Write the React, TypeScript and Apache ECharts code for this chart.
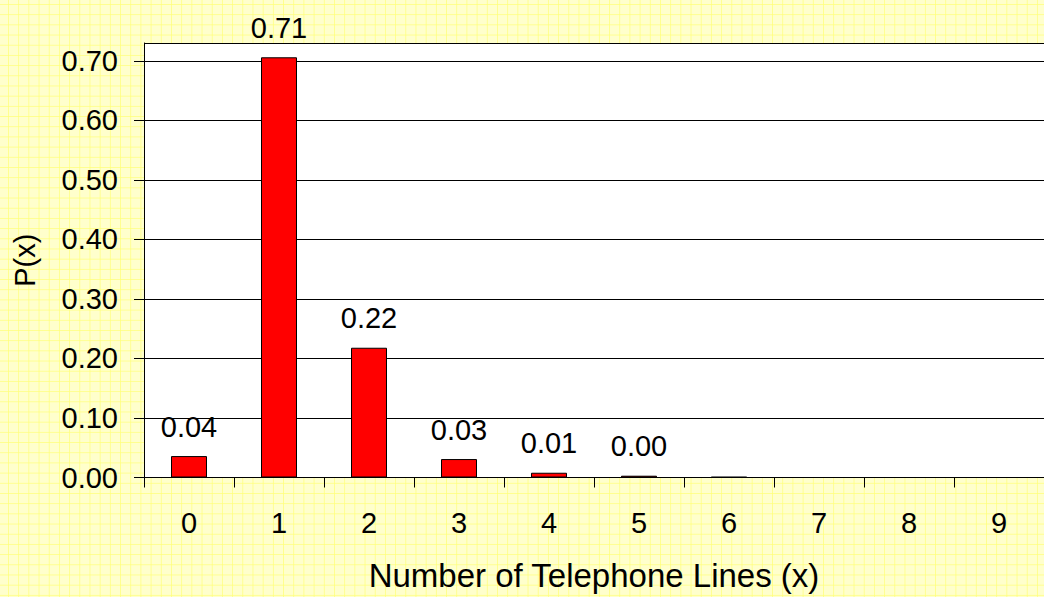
import React, { useEffect, useRef } from "react";
import * as echarts from "echarts";

const categories = ["0", "1", "2", "3", "4", "5", "6", "7", "8", "9"];
const probabilities = [0.036, 0.706, 0.218, 0.031, 0.008, 0.003, 0.001, 0, 0, 0];
const labeledCount = 6;
const yTicks = [0, 0.1, 0.2, 0.3, 0.4, 0.5, 0.6, 0.7];
const yMax = 0.73;
const xTitle = "Number of Telephone Lines (x)";
const yTitle = "P(x)";

const FONT = "'Liberation Sans', Arial, Helvetica, sans-serif";

export default function App() {
  const ref = useRef<HTMLDivElement>(null);
  useEffect(() => {
    if (!ref.current) return;
    const chart = echarts.init(ref.current, undefined, { renderer: "svg" });
    chart.setOption({
      animation: false,
      backgroundColor: "transparent",
      textStyle: { fontFamily: FONT },
      grid: {
        left: 144,
        top: 43,
        width: 912,
        height: 439,
        show: true,
        backgroundColor: "#ffffff",
        borderWidth: 0,
        containLabel: false,
      },
      xAxis: {
        type: "category",
        data: categories,
        boundaryGap: true,
        name: xTitle,
        nameLocation: "middle",
        nameGap: 98,
        nameTextStyle: {
          fontSize: 33,
          color: "#000",
          fontFamily: FONT,
          verticalAlign: "middle",
          align: "center",
        },
        axisLine: { show: true, lineStyle: { color: "#000", width: 1 } },
        axisTick: { show: true, alignWithLabel: false, length: 10, lineStyle: { color: "#000" } },
        axisLabel: { fontSize: 29, color: "#000", margin: 31, fontFamily: FONT },
        splitLine: { show: false },
      },
      yAxis: {
        type: "value",
        min: 0,
        max: yMax,
        interval: 0.1,
        name: yTitle,
        nameLocation: "middle",
        nameGap: 119,
        nameTextStyle: {
          fontSize: 29,
          color: "#000",
          fontFamily: FONT,
          verticalAlign: "middle",
          align: "center",
        },
        axisLine: { show: true, lineStyle: { color: "#000", width: 1 } },
        axisTick: {
          show: true,
          length: 10,
          lineStyle: { color: "#000" },
          customValues: yTicks,
        },
        axisLabel: {
          fontSize: 29,
          color: "#000",
          margin: 26,
          fontFamily: FONT,
          customValues: yTicks,
          formatter: (v: number) => v.toFixed(2),
        },
        splitLine: { show: true, lineStyle: { color: "#000", width: 1 } },
      },
      series: [
        {
          type: "bar",
          data: probabilities,
          barWidth: "40%",
          itemStyle: { color: "#ff0000", borderColor: "#000", borderWidth: 1 },
          label: {
            show: true,
            position: "top",
            distance: 15,
            fontSize: 29,
            color: "#000",
            fontFamily: FONT,
            formatter: (p: any) =>
              p.dataIndex < labeledCount ? Number(p.value).toFixed(2) : "",
          },
          markLine: {
            silent: true,
            symbol: "none",
            label: { show: false },
            lineStyle: { color: "#000", width: 1, type: "solid" },
            data: [{ yAxis: yMax }],
          },
        },
      ],
    });
    return () => chart.dispose();
  }, []);

  return (
    <div
      style={{
        position: "fixed",
        left: 0,
        top: 0,
        width: 1044,
        height: 597,
        overflow: "hidden",
        backgroundColor: "#ffffcc",
        backgroundImage:
          "linear-gradient(to right, rgba(255,255,120,0.75) 1px, transparent 1px), linear-gradient(to bottom, rgba(255,255,120,0.75) 1px, transparent 1px)",
        backgroundSize: "10.2px 10.2px",
        backgroundPosition: "8px 4px",
      }}
    >
      <div ref={ref} style={{ width: 1044, height: 597 }} />
    </div>
  );
}
